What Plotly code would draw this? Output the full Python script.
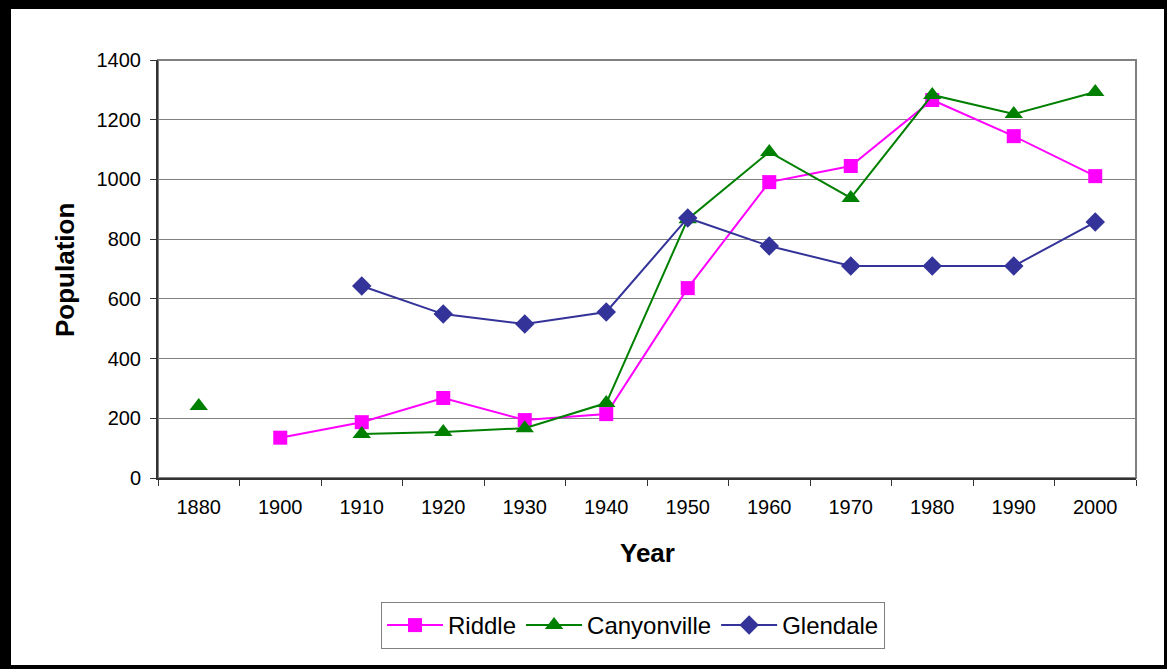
import plotly.graph_objects as go

years = ["1880", "1900", "1910", "1920", "1930", "1940", "1950", "1960", "1970", "1980", "1990", "2000"]
riddle = [None, 135, 187, 268, 194, 214, 636, 991, 1045, 1266, 1145, 1011]
canyonville = [241, None, 147, 154, 167, 251, 867, 1092, 938, 1283, 1219, 1293]
glendale = [None, None, 643, 549, 516, 556, 871, 777, 710, 710, 710, 857]

FONT = "Arial, Liberation Sans, sans-serif"

fig = go.Figure()
fig.add_trace(go.Scatter(x=years, y=riddle, name="Riddle", mode="lines+markers",
                         line=dict(color="#FF00FF", width=2),
                         marker=dict(symbol="square", size=14, color="#FF00FF"),
                         connectgaps=False))
fig.add_trace(go.Scatter(x=years, y=canyonville, name="Canyonville", mode="lines+markers",
                         line=dict(color="#008000", width=2),
                         marker=dict(symbol="triangle-up", size=16, color="#008000"),
                         connectgaps=False))
fig.add_trace(go.Scatter(x=years, y=glendale, name="Glendale", mode="lines+markers",
                         line=dict(color="#333399", width=2),
                         marker=dict(symbol="diamond", size=15, color="#333399"),
                         connectgaps=False))

W, H = 1167, 669
L, R, T, B = 158, 1136, 60, 478
PW, PH = R - L, B - T


def px(x):
    return (x - L) / PW


def py(y):
    return (B - y) / PH


fig.update_layout(
    width=W, height=H,
    margin=dict(l=L, r=W - R, t=T, b=H - B),
    paper_bgcolor="white", plot_bgcolor="white",
    font=dict(family=FONT, size=20, color="black"),
    showlegend=True,
    legend=dict(orientation="h", x=px(633), xanchor="center",
                y=py(602), yanchor="top",
                bordercolor="#808080", borderwidth=1,
                font=dict(size=24, family=FONT, color="black"),
                itemwidth=56, tracegroupgap=0),
    xaxis=dict(type="category", range=[-0.5, 11.5], tickson="boundaries",
               ticks="outside", ticklen=6, tickcolor="#333333",
               showline=True, linecolor="#333333", linewidth=2,
               showgrid=False, zeroline=False, tickfont=dict(size=20),
               ticklabelstandoff=10),
    yaxis=dict(range=[0, 1400], dtick=200, ticks="outside", ticklen=6,
               tickcolor="#333333", showline=True, linecolor="#333333",
               linewidth=2, showgrid=True, gridcolor="#808080", gridwidth=1,
               zeroline=False, tickfont=dict(size=20), ticklabelstandoff=5),
    shapes=[
        dict(type="rect", xref="paper", yref="paper", x0=0, x1=1, y0=0, y1=1,
             line=dict(color="#808080", width=2), layer="below"),
        # outer black frame
        dict(type="rect", xref="paper", yref="paper", x0=px(0), x1=px(11),
             y0=py(H), y1=py(0), line=dict(width=0), fillcolor="black"),
        dict(type="rect", xref="paper", yref="paper", x0=px(0), x1=px(W),
             y0=py(9), y1=py(0), line=dict(width=0), fillcolor="black"),
        dict(type="rect", xref="paper", yref="paper", x0=px(1164), x1=px(W),
             y0=py(H), y1=py(0), line=dict(width=0), fillcolor="black"),
        dict(type="rect", xref="paper", yref="paper", x0=px(0), x1=px(W),
             y0=py(H), y1=py(665), line=dict(width=0), fillcolor="black"),
    ],
    annotations=[
        dict(text="<b>Population</b>", xref="paper", yref="paper",
             x=px(65), y=py(270), textangle=-90,
             showarrow=False, xanchor="center", yanchor="middle",
             font=dict(size=26, family=FONT, color="black")),
        dict(text="<b>Year</b>", xref="paper", yref="paper",
             x=px(647), y=py(553), showarrow=False,
             xanchor="center", yanchor="middle",
             font=dict(size=26, family=FONT, color="black")),
    ],
)

fig.write_html("out.html", config={"displayModeBar": False},
               post_script="document.body.style.margin='0px';")
